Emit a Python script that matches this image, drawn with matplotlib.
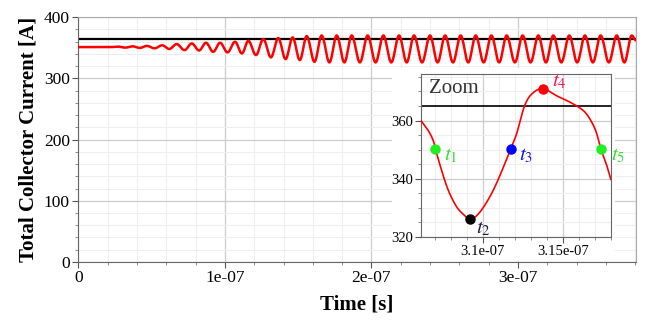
import numpy as np
import matplotlib
matplotlib.use("Agg")
import matplotlib.pyplot as plt
from matplotlib.patches import Rectangle
from matplotlib.ticker import MultipleLocator, FuncFormatter

plt.rcParams['font.family'] = ['Liberation Serif', 'DejaVu Serif']
plt.rcParams['mathtext.fontset'] = 'stix'

# --- data (time in units of 1e-7 s, current in A) ---
ref_level = 365.0
flat_t = [0.0, 0.22]
flat_v = [351.0, 351.0]

peak_t = [0.271, 0.370, 0.469, 0.571, 0.671, 0.774, 0.871, 0.967, 1.069, 1.160,
          1.262, 1.364, 1.462, 1.558, 1.660, 1.763, 1.865, 1.974, 2.081, 2.188,
          2.290, 2.399, 2.502, 2.608, 2.711, 2.818, 2.922, 3.031, 3.138, 3.240,
          3.349, 3.456, 3.563, 3.673, 3.775]
peak_v = [351.8, 352.3, 353.0, 354.0, 355.9, 357.0, 358.1, 358.1, 359.7, 361.3,
          364.1, 365.7, 366.8, 369.0, 370.0, 370.0, 370.0, 370.0, 370.0, 370.0,
          370.0, 370.0, 370.0, 370.0, 370.0, 370.0, 370.0, 370.0, 370.0, 370.0,
          370.0, 370.0, 370.0, 370.0, 370.0]
trough_t = [0.321, 0.420, 0.520, 0.621, 0.725, 0.824, 0.920, 1.018, 1.116, 1.212,
            1.314, 1.414, 1.511, 1.611, 1.713, 1.815, 1.921, 2.028, 2.135, 2.240,
            2.345, 2.451, 2.556, 2.660, 2.765, 2.871, 2.978, 3.085, 3.190, 3.295,
            3.403, 3.510, 3.619, 3.725]
trough_v = [350.2, 349.7, 349.0, 348.0, 346.1, 345.5, 343.3, 342.4, 340.7, 338.0,
            334.2, 331.4, 329.8, 327.0, 326.0, 326.0, 326.0, 326.0, 326.0, 326.0,
            326.0, 326.0, 326.0, 326.0, 326.0, 326.0, 326.0, 326.0, 326.0, 326.0,
            326.0, 326.0, 326.0, 326.0]
end_t = [3.804]
end_v = [362.0]

# zoomed window (time in 1e-7 s)
zoom_t = [3.0614, 3.0659, 3.0690, 3.0704, 3.0742, 3.0784, 3.0836, 3.0888, 3.0922,
          3.0970, 3.1030, 3.1090, 3.1174, 3.1211, 3.1259, 3.1305, 3.1374, 3.1461,
          3.1545, 3.1628, 3.1674, 3.1708, 3.1737, 3.1770, 3.1799]
zoom_v = [360.0, 356.6, 353.2, 350.2, 343.0, 336.1, 330.4, 327.3, 326.1,
          327.8, 332.5, 339.0, 350.2, 355.5, 364.8, 369.1, 371.0, 368.5,
          366.3, 363.4, 360.0, 356.0, 350.2, 345.2, 339.8]

marker_names = ['t_1', 't_2', 't_3', 't_4', 't_5']
marker_t = [3.0704, 3.0922, 3.1174, 3.1374, 3.1737]
marker_v = [350.2, 326.1, 350.2, 371.0, 350.2]
marker_colors = ['#22ee22', '#000000', '#0000ff', '#ff0000', '#22ee22']
label_colors = ['#33dd33', '#1a2040', '#1010ee', '#ff1050', '#33dd33']
label_offsets = [(6, -5), (4, -7), (6, -5), (7, 5), (7, -5)]


def smooth_through_extrema(ts, vs, n=24):
    # cosine easing between successive extrema
    xs, ys = [], []
    for i in range(len(ts) - 1):
        s = np.linspace(0, 1, n, endpoint=False)
        xs.append(ts[i] + (ts[i + 1] - ts[i]) * s)
        ys.append(vs[i] + (vs[i + 1] - vs[i]) * (1 - np.cos(np.pi * s)) / 2)
    xs.append([ts[-1]])
    ys.append([vs[-1]])
    return np.concatenate(xs), np.concatenate(ys)


def catmull_rom(ts, vs, n=12):
    # smooth drawing path through the read points
    p = np.column_stack([ts, vs])
    p = np.vstack([2 * p[0] - p[1], p, 2 * p[-1] - p[-2]])
    out = []
    s = np.linspace(0, 1, n, endpoint=False)[:, None]
    for i in range(1, len(p) - 2):
        p0, p1, p2, p3 = p[i - 1], p[i], p[i + 1], p[i + 2]
        out.append(0.5 * ((2 * p1) + (-p0 + p2) * s + (2 * p0 - 5 * p1 + 4 * p2 - p3) * s ** 2
                          + (-p0 + 3 * p1 - 3 * p2 + p3) * s ** 3))
    out.append(p[-2][None, :])
    out = np.vstack(out)
    return out[:, 0], out[:, 1]


ext = sorted(zip(flat_t + peak_t + trough_t + end_t,
                 flat_v + peak_v + trough_v + end_v))
curve_t, curve_v = smooth_through_extrema([e[0] for e in ext], [e[1] for e in ext])
curve_t = curve_t * 1e-7

fig = plt.figure(figsize=(6.6, 3.23), dpi=100)
ax = fig.add_axes([0.1186, 0.189, 0.845, 0.758])
ax.set_axisbelow(True)

ax.axhline(ref_level, color='black', lw=1.6, zorder=2)
ax.plot(curve_t, curve_v, color='red', lw=1.8, zorder=3)

ax.set_xlim(0, 3.804e-7)
ax.set_ylim(0, 400)
ax.xaxis.set_major_locator(MultipleLocator(1e-7))
ax.xaxis.set_minor_locator(MultipleLocator(0.2e-7))
ax.yaxis.set_major_locator(MultipleLocator(100))
ax.yaxis.set_minor_locator(MultipleLocator(20))
ax.xaxis.set_major_formatter(FuncFormatter(lambda v, p: '0' if abs(v) < 1e-12 else '%de-07' % round(v * 1e7)))
ax.grid(which='major', color='#cccccc', lw=0.9)
ax.grid(which='minor', color='#eeeeee', lw=0.8)
ax.tick_params(which='major', direction='out', length=4, width=0.8, color='#555555', labelsize=12.5, pad=2)
ax.tick_params(which='minor', direction='out', length=2, width=0.6, color='#777777')
for side in ['top', 'right']:
    ax.spines[side].set_color('#aaaaaa')
for side in ['left', 'bottom']:
    ax.spines[side].set_color('#666666')
ax.set_ylabel('Total Collector Current [A]', fontsize=15, fontweight='bold', labelpad=4)
ax.set_xlabel('Time [s]', fontsize=15, fontweight='bold', labelpad=6)

# white backdrop behind the inset
ax.add_patch(Rectangle((392 / 660, 1 - 261 / 323), (615 - 392) / 660, (261 - 68) / 323,
                       transform=fig.transFigure, facecolor='white', edgecolor='none',
                       zorder=4, clip_on=False))

ins = fig.add_axes([421 / 660, 1 - 237 / 323, 190 / 660, 163 / 323])
ins.set_axisbelow(True)
ins.axhline(ref_level, color='black', lw=1.2, zorder=2)
zt, zv = catmull_rom(zoom_t, zoom_v)
ins.plot(zt * 1e-7, zv, color='red', lw=1.2, zorder=3)
for name, t, v, mc, lc, off in zip(marker_names, marker_t, marker_v, marker_colors,
                                    label_colors, label_offsets):
    ins.plot(t * 1e-7, v, 'o', color=mc, ms=6.5, zorder=5, clip_on=False)
    ins.annotate('$%s$' % name, (t * 1e-7, v), xytext=off, textcoords='offset points',
                 color=lc, fontsize=15, ha='left', va='center', annotation_clip=False)
ins.text(0.042, 0.91, 'Zoom', transform=ins.transAxes, fontsize=15, color='#333333',
         ha='left', va='center')
ins.set_xlim(3.0614e-7, 3.18e-7)
ins.set_ylim(320, 376)
ins.xaxis.set_major_locator(MultipleLocator(0.05e-7))
ins.xaxis.set_minor_locator(MultipleLocator(0.01e-7))
ins.yaxis.set_major_locator(MultipleLocator(20))
ins.yaxis.set_minor_locator(MultipleLocator(5))
ins.xaxis.set_major_formatter(FuncFormatter(lambda v, p: ('%ge-07' % round(v * 1e7, 2))))
ins.grid(which='major', color='#cccccc', lw=0.9)
ins.grid(which='minor', color='#eeeeee', lw=0.8)
ins.tick_params(which='major', direction='out', length=4, width=0.8, color='#555555', labelsize=10.5, pad=2)
ins.tick_params(which='minor', direction='out', length=2, width=0.6, color='#777777')
for side in ins.spines:
    ins.spines[side].set_color('#666666')

fig.savefig('out.png', dpi=100)
